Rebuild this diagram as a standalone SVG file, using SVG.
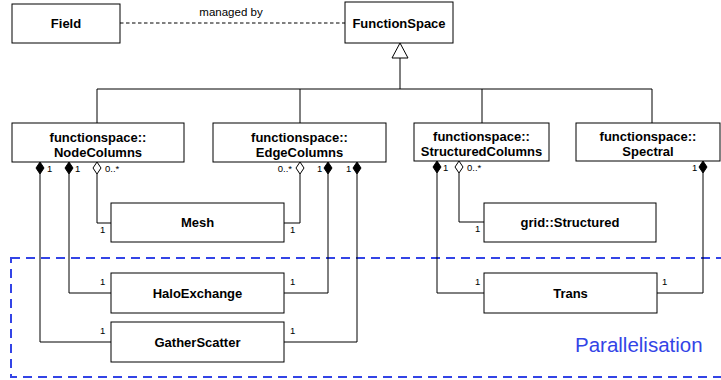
<svg xmlns="http://www.w3.org/2000/svg" width="721" height="380" viewBox="0 0 721 380">
<style>
.box{fill:#fff;stroke:#000;stroke-width:1}
.t{font-family:"Liberation Sans",Arial,sans-serif;font-weight:bold;font-size:13px;text-anchor:middle;fill:#000}
.l{font-family:"Liberation Sans",Arial,sans-serif;font-size:9.5px;fill:#000}
.c{fill:none;stroke:#000;stroke-width:1}
.fd{fill:#000;stroke:#000;stroke-width:1}
.hd{fill:#fff;stroke:#000;stroke-width:1}
</style>
<defs>
<path id="dia" d="M0,0 L4,6 L0,12 L-4,6 Z"/>
</defs>
<rect x="11" y="258" width="716" height="119" fill="none" stroke="#3344e6" stroke-width="2" stroke-dasharray="9,6"/>
<text x="575" y="352" font-family="'Liberation Sans',Arial,sans-serif" font-size="20.5" fill="#3344e6">Parallelisation</text>
<g id="connectors">
<line class="c" x1="120" y1="23" x2="345" y2="23" stroke-dasharray="3.5,2.5"/>
<text x="231" y="16" text-anchor="middle" font-family="'Liberation Sans',Arial,sans-serif" font-size="11.5" fill="#000">managed by</text>
<path class="c" d="M400,58 V89 M97,89 H652 M97,89 V123 M300,89 V123 M482,89 V123 M652,89 V123"/>
<path class="hd" d="M400,43 L408,58 L392,58 Z"/>
<path class="c" d="M40,174 V342 H111 M69,174 V293 H111 M97,174 V223 H111"/>
<path class="c" d="M300,174 V223 H284 M328,174 V293 H284 M357,174 V342 H284"/>
<path class="c" d="M437,173 V293 H484 M459,173 V222 H484"/>
<path class="c" d="M703,173 V293 H657"/>
<use href="#dia" x="40" y="162" class="fd"/>
<use href="#dia" x="69" y="162" class="fd"/>
<use href="#dia" x="97" y="162" class="hd"/>
<use href="#dia" x="300" y="162" class="hd"/>
<use href="#dia" x="328" y="162" class="fd"/>
<use href="#dia" x="357" y="162" class="fd"/>
<use href="#dia" x="437" y="161" class="fd"/>
<use href="#dia" x="459" y="161" class="hd"/>
<use href="#dia" x="703" y="161" class="fd"/>
<text class="l" x="47" y="172">1</text>
<text class="l" x="75" y="172">1</text>
<text class="l" x="105" y="172">0..*</text>
<text class="l" x="292" y="172" text-anchor="end">0..*</text>
<text class="l" x="317" y="172">1</text>
<text class="l" x="346" y="172">1</text>
<text class="l" x="443" y="171">1</text>
<text class="l" x="467" y="171">0..*</text>
<text class="l" x="692" y="171">1</text>
<text class="l" x="100" y="233">1</text>
<text class="l" x="290" y="233">1</text>
<text class="l" x="475" y="232">1</text>
<text class="l" x="100" y="285">1</text>
<text class="l" x="290" y="285">1</text>
<text class="l" x="100" y="334">1</text>
<text class="l" x="290" y="334">1</text>
<text class="l" x="475" y="285">1</text>
<text class="l" x="662" y="285">1</text>
</g>
<g id="field"><rect class="box" x="12" y="4" width="108" height="39"/><text class="t" x="66" y="28">Field</text></g>
<g id="functionspace"><rect class="box" x="345" y="2" width="108" height="41"/><text class="t" x="399" y="28">FunctionSpace</text></g>
<g id="nodecolumns"><rect class="box" x="12" y="123" width="172" height="39"/><text class="t" x="98" y="141.5">functionspace::</text><text class="t" x="98" y="156.5">NodeColumns</text></g>
<g id="edgecolumns"><rect class="box" x="213" y="123" width="173" height="39"/><text class="t" x="299.5" y="141.5">functionspace::</text><text class="t" x="299.5" y="156.5">EdgeColumns</text></g>
<g id="structuredcolumns"><rect class="box" x="414" y="123" width="135" height="38"/><text class="t" x="481.5" y="141">functionspace::</text><text class="t" x="481.5" y="156">StructuredColumns</text></g>
<g id="spectral"><rect class="box" x="576" y="123" width="144" height="38"/><text class="t" x="648" y="141">functionspace::</text><text class="t" x="648" y="156">Spectral</text></g>
<g id="mesh"><rect class="box" x="111" y="203" width="173" height="39"/><text class="t" x="197.5" y="227">Mesh</text></g>
<g id="gridstructured"><rect class="box" x="484" y="203" width="172" height="39"/><text class="t" x="570" y="227">grid::Structured</text></g>
<g id="haloexchange"><rect class="box" x="111" y="273" width="173" height="40"/><text class="t" x="197.5" y="297.5">HaloExchange</text></g>
<g id="gatherscatter"><rect class="box" x="111" y="322" width="173" height="40"/><text class="t" x="197.5" y="346.5">GatherScatter</text></g>
<g id="trans"><rect class="box" x="484" y="273" width="173" height="40"/><text class="t" x="570.5" y="297.5">Trans</text></g>
</svg>
